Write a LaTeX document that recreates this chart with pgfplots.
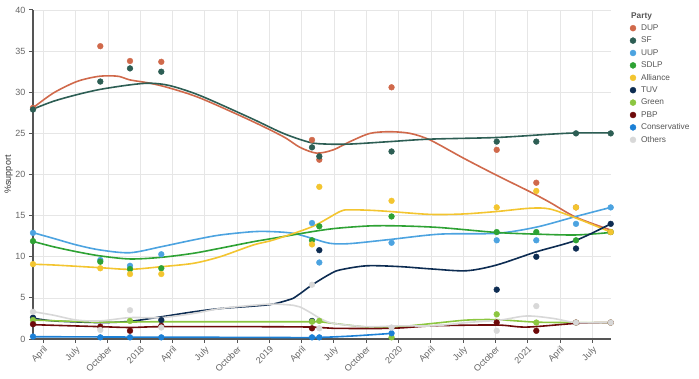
\documentclass[border=0pt]{standalone}
\usepackage{fontspec}
\setmainfont{Liberation Sans}
\usepackage{pgfplots}
\pgfplotsset{compat=1.18}
\definecolor{cDUP}{HTML}{D0694B}
\definecolor{cSF}{HTML}{2D5E54}
\definecolor{cUUP}{HTML}{4CA3E0}
\definecolor{cSDLP}{HTML}{2EA234}
\definecolor{cAll}{HTML}{F3C530}
\definecolor{cTUV}{HTML}{0D2C52}
\definecolor{cGreen}{HTML}{8CC640}
\definecolor{cPBP}{HTML}{6E0A0A}
\definecolor{cCon}{HTML}{1C80D6}
\definecolor{cOth}{HTML}{D8D8D8}
\definecolor{axisgray}{HTML}{555555}
\definecolor{gridgray}{HTML}{E6E6E6}
\definecolor{labelgray}{HTML}{666666}
\definecolor{legendgray}{HTML}{555555}
\pgfplotsset{
  trend/.style={line width=1.6bp, smooth, tension=0.5, forget plot},
  pts/.style={only marks, mark=*, mark size=2.9bp},
}
\begin{document}
\begin{tikzpicture}
\path[use as bounding box] (0,0) rectangle (699bp,379bp);
\begin{axis}[
  at={(33bp,40bp)}, anchor=south west,
  width=578bp, height=329bp, scale only axis,
  xmin=2.043, xmax=55.736, ymin=0, ymax=40,
  axis x line=bottom, axis y line=left,
  axis line style={draw=axisgray, line width=1.6bp, -},
  xtick={3,6,...,54},
  xticklabels={April,July,October,2018,April,July,October,2019,April,July,October,2020,April,July,October,2021,April,July},
  ytick={0,5,...,40},
  grid=major, major grid style={draw=gridgray, line width=0.6bp},
  tick style={draw=axisgray, line width=1bp},
  major tick length=4bp, tick align=outside,
  /pgf/number format/assume math mode=true,
  xticklabel style={rotate=45, anchor=north east, font=\fontsize{9bp}{10bp}\selectfont, text=labelgray, inner sep=1.5bp},
  yticklabel style={font=\fontsize{9bp}{10bp}\selectfont, text=labelgray},
  ylabel={\%support}, ylabel shift=-4bp,
  ylabel style={font=\fontsize{9bp}{10bp}\selectfont, text=black!80},
  clip=false,
  legend style={at={(1,1)}, anchor=north west, xshift=19bp, yshift=-12bp,
    draw=none, fill=none, inner sep=0pt, outer sep=0pt,
    font=\fontsize{8.3bp}{10bp}\selectfont, text=legendgray,
    row sep=0pt, column sep=5bp,
    nodes={inner sep=0pt, minimum height=12.4bp, text height=6.2bp, text depth=1.5bp}},
  legend cell align=left,
  legend image code/.code={\draw[#1, mark size=3bp] plot coordinates {(3bp,0bp)};},
]
% DUP
\addplot[cDUP, trend] coordinates {(2.043,28.1) (3.929,29.9) (6.103,31.3) (7.961,31.9) (9.196,32.0) (10.125,31.9) (11.054,31.5) (12.912,31.1) (14.770,30.5) (17.557,29.3) (22.201,26.6) (25.295,24.6) (26.846,23.3) (28.397,22.6) (29.939,23.0) (31.491,24.0) (33.348,25.0) (35.206,25.2) (37.064,25.0) (38.922,24.2) (42.016,22.0) (45.118,19.9) (48.212,17.9) (50.070,16.6) (52.484,14.8) (55.708,13.25)};
\addplot[cDUP, pts] coordinates {(2.043,28.1) (8.295,35.6) (11.054,33.8) (13.962,33.7) (27.961,24.2) (28.640,21.8) (35.35,30.6) (45.118,23.0) (48.797,19.0) (52.484,16.0) (55.708,13.0)};
\addlegendentry{DUP}
% SF
\addplot[cSF, trend] coordinates {(2.043,27.95) (3.929,28.9) (6.103,29.7) (8.295,30.35) (11.054,30.9) (12.912,31.1) (14.770,30.8) (17.557,29.6) (22.201,26.9) (25.295,25.0) (27.775,23.9) (29.326,23.7) (31.491,23.7) (35.206,24.0) (38.922,24.3) (45.118,24.5) (50.070,24.9) (52.484,25.05) (55.708,25.05)};
\addplot[cSF, pts] coordinates {(2.043,27.9) (8.295,31.3) (11.054,32.9) (13.962,32.5) (27.961,23.3) (28.640,22.2) (35.35,22.8) (45.118,24.0) (48.797,24.0) (52.484,25.0) (55.708,25.0)};
\addlegendentry{SF}
% UUP
\addplot[cUUP, trend] coordinates {(2.043,12.93) (3.929,12.24) (6.103,11.43) (8.295,10.82) (11.054,10.49) (13.962,11.22) (16.934,12.04) (19.414,12.64) (22.508,13.05) (24.366,13.05) (26.223,12.85) (27.961,12.24) (29.633,11.63) (31.491,11.6) (35.206,12.1) (39.851,12.75) (45.118,12.85) (48.797,13.6) (52.484,14.9) (55.708,16.0)};
\addplot[cUUP, pts] coordinates {(2.043,12.9) (8.295,9.6) (11.054,8.9) (13.962,10.3) (27.961,14.1) (28.640,9.3) (35.35,11.7) (45.118,12.0) (48.797,12.0) (52.484,14.0) (55.708,16.0)};
\addlegendentry{UUP}
% SDLP
\addplot[cSDLP, trend] coordinates {(2.043,11.87) (3.929,11.22) (6.103,10.61) (8.295,10.1) (11.054,9.73) (13.962,9.93) (16.934,10.42) (19.414,11.03) (22.508,11.83) (24.366,12.24) (27.961,13.05) (30.252,13.46) (33.348,13.75) (36.135,13.75) (39.851,13.55) (45.118,12.95) (48.797,12.75) (52.484,12.65) (55.708,12.95)};
\addplot[cSDLP, pts] coordinates {(2.043,11.9) (8.295,9.4) (11.054,8.5) (13.962,8.6) (27.961,12.0) (28.640,13.7) (35.35,14.9) (45.118,13.0) (48.797,13.0) (52.484,12.0) (55.708,13.0)};
\addlegendentry{SDLP}
% Alliance
\addplot[cAll, trend] coordinates {(2.043,9.08) (3.929,9.0) (8.295,8.67) (11.054,8.47) (13.962,8.79) (16.934,9.2) (19.414,10.0) (22.508,11.43) (24.366,12.04) (27.961,13.65) (30.562,15.5) (31.491,15.7) (33.348,15.65) (35.206,15.5) (38.922,15.15) (42.0,15.2) (45.118,15.5) (48.212,15.9) (50.070,15.8) (52.484,14.7) (55.708,13.0)};
\addplot[cAll, pts] coordinates {(2.043,9.1) (8.295,8.6) (11.054,7.9) (13.962,7.9) (27.961,11.5) (28.640,18.5) (35.35,16.8) (45.118,16.0) (48.797,18.0) (52.484,16.0) (55.708,13.0)};
\addlegendentry{Alliance}
% TUV
\addplot[cTUV, trend] coordinates {(2.043,2.55) (3.929,2.2) (8.295,2.0) (11.054,2.15) (13.962,2.7) (16.934,3.3) (19.414,3.7) (22.508,4.0) (24.366,4.25) (26.223,4.95) (26.846,5.5) (27.961,6.57) (29.633,7.9) (30.562,8.4) (33.042,8.9) (36.135,8.8) (39.229,8.5) (42.331,8.3) (45.118,9.0) (48.797,10.6) (52.484,12.0) (55.708,14.0)};
\addplot[cTUV, pts] coordinates {(2.043,2.6) (13.962,2.3) (27.961,2.2) (28.640,10.8) (45.118,6.0) (48.797,10.0) (52.484,11.0) (55.708,14.0)};
\addlegendentry{TUV}
% Green
\addplot[cGreen, trend] coordinates {(2.043,2.31) (8.295,2.05) (13.962,2.1) (22.201,2.1) (27.961,2.1) (28.704,2.1) (29.939,1.9) (33.042,1.45) (35.35,1.4) (39.229,1.9) (42.331,2.3) (45.118,2.35) (48.797,2.05) (52.484,2.0) (55.708,2.0)};
\addplot[cGreen, pts] coordinates {(2.043,2.3) (11.054,2.2) (27.961,2.1) (28.640,2.2) (35.35,0.2) (45.118,3.0) (48.797,2.0) (52.484,2.0) (55.708,2.0)};
\addlegendentry{Green}
% PBP
\addplot[cPBP, trend] coordinates {(2.043,1.74) (8.295,1.5) (11.054,1.4) (13.962,1.5) (22.201,1.5) (27.961,1.45) (29.939,1.3) (35.35,1.3) (39.229,1.6) (45.118,1.7) (47.905,1.45) (52.484,1.9) (55.708,2.0)};
\addplot[cPBP, pts] coordinates {(2.043,1.8) (8.295,1.5) (11.054,1.0) (13.962,1.6) (27.961,1.3) (45.118,2.0) (48.797,1.0) (52.484,2.0) (55.708,2.0)};
\addlegendentry{PBP}
% Conservative
\addplot[cCon, trend] coordinates {(2.043,0.28) (8.295,0.25) (13.962,0.22) (22.201,0.2) (27.961,0.18) (31.491,0.35) (35.35,0.68)};
\addplot[cCon, pts] coordinates {(2.043,0.3) (8.295,0.2) (11.054,0.2) (13.962,0.2) (27.961,0.2) (28.640,0.2) (35.35,0.7)};
\addlegendentry{Conservative}
% Others
\addplot[cOth, trend] coordinates {(2.043,3.32) (3.929,2.9) (6.103,2.3) (8.295,2.2) (11.054,2.6) (13.962,2.6) (16.934,3.1) (19.414,3.7) (22.508,4.1) (24.366,4.25) (26.223,4.1) (26.846,3.9) (27.961,3.1) (28.704,2.5) (29.939,1.9) (33.042,1.5) (36.135,1.6) (39.229,1.6) (42.331,2.0) (45.425,2.3) (47.905,2.8) (50.376,2.5) (52.484,2.0) (55.708,2.0)};
\addplot[cOth, pts] coordinates {(2.043,3.3) (8.295,1.1) (11.054,3.5) (13.962,1.4) (27.961,6.6) (28.640,1.3) (35.35,1.4) (45.118,1.0) (48.797,4.0) (52.484,2.0) (55.708,2.0)};
\addlegendentry{Others}
\end{axis}
\node[anchor=base west, font=\bfseries\fontsize{8.3bp}{10bp}\selectfont, text=legendgray, inner sep=0pt] at (631bp,360.5bp) {Party};
\end{tikzpicture}
\end{document}
